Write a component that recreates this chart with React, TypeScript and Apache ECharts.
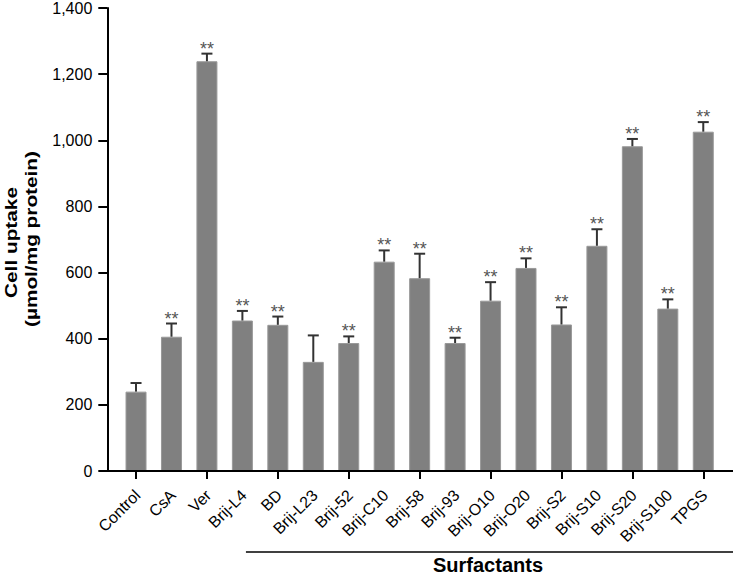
import React, { useEffect, useRef } from "react";
import * as echarts from "echarts";

const categories = [
  "Control", "CsA", "Ver", "Brij-L4", "BD", "Brij-L23", "Brij-52", "Brij-C10", "Brij-58",
  "Brij-93", "Brij-O10", "Brij-O20", "Brij-S2", "Brij-S10", "Brij-S20", "Brij-S100", "TPGS",
];
const means = [240, 406, 1239, 455, 442, 330, 387, 633, 583, 387, 515, 614, 443, 681, 982, 491, 1026];
const errors = [26, 40, 23, 29, 25, 80, 20, 34, 74, 16, 56, 29, 52, 50, 22, 28, 29];
const significance = ["", "**", "**", "**", "**", "", "**", "**", "**", "**", "**", "**", "**", "**", "**", "**", "**"];
const yTitleLines = ["Cell uptake", "(\u00b5mol/mg protein)"];
const groupLabel = "Surfactants";
const groupStart = "BD";

const FONT = "'Liberation Sans', Arial, Helvetica, sans-serif";

export default function App() {
  const ref = useRef<HTMLDivElement>(null);

  useEffect(() => {
    document.body.style.margin = "0";
    if (!ref.current) return;
    const chart = echarts.init(ref.current, null, { renderer: "svg" });

    const option: any = {
      animation: false,
      backgroundColor: "#ffffff",
      grid: { left: 118.3, right: 12, top: 7, bottom: 110, containLabel: false },
      xAxis: {
        type: "category",
        data: categories,
        axisLine: { show: false },
        axisTick: { show: true, alignWithLabel: true, length: 8, lineStyle: { color: "#000", width: 2 } },
        axisLabel: { show: false },
      },
      yAxis: {
        type: "value",
        min: 0,
        max: 1400,
        interval: 200,
        offset: 11,
        splitLine: { show: false },
        axisLine: { show: true, lineStyle: { color: "#000", width: 2 } },
        axisTick: { show: true, length: 9, lineStyle: { color: "#000", width: 2 } },
        axisLabel: {
          margin: 15,
          color: "#000",
          fontSize: 16,
          fontFamily: FONT,
          formatter: (v: number) => v.toLocaleString("en-US"),
        },
      },
      series: [
        {
          type: "bar",
          data: means,
          barWidth: 21,
          itemStyle: { color: "#808080", borderColor: "#999999", borderWidth: 1 },
          z: 2,
        },
        {
          type: "custom",
          data: means.map((m, i) => [i, m, errors[i]]),
          encode: { x: 0, y: 1 },
          z: 3,
          renderItem: (params: any, api: any) => {
            const i = api.value(0);
            const m = api.value(1);
            const e = api.value(2);
            const base = api.coord([i, m]);
            const top = api.coord([i, m + e]);
            const capHalf = 5.5;
            const children: any[] = [
              {
                type: "line",
                shape: { x1: base[0], y1: base[1], x2: top[0], y2: top[1] },
                style: { stroke: "#333", lineWidth: 2 },
              },
              {
                type: "line",
                shape: { x1: top[0] - capHalf, y1: top[1], x2: top[0] + capHalf, y2: top[1] },
                style: { stroke: "#333", lineWidth: 2 },
              },
            ];
            const s = significance[params.dataIndex];
            if (s) {
              children.push({
                type: "text",
                x: top[0],
                y: top[1] - 5,
                style: {
                  text: s,
                  fill: "#555",
                  font: `18px ${FONT}`,
                  align: "center",
                  verticalAlign: "middle",
                },
              });
            }
            return { type: "group", children };
          },
        },
      ],
    };

    chart.setOption(option);

    const y0 = chart.convertToPixel({ yAxisIndex: 0 }, 0) as number;
    const yAxisX = 118.3 - 11;
    const catX = categories.map((c) => chart.convertToPixel({ xAxisIndex: 0 }, c) as number);
    const bw = catX[1] - catX[0];
    const bdX = catX[categories.indexOf(groupStart)];
    const yTop = chart.convertToPixel({ yAxisIndex: 0 }, 1400) as number;
    const yMid = (yTop + y0) / 2;

    const xLabels = categories.map((c, i) => ({
      type: "text",
      x: catX[i] + 1.5,
      y: y0 + 21.5,
      rotation: Math.PI / 4,
      style: {
        text: c,
        fill: "#000",
        font: `16px ${FONT}`,
        align: "right",
        verticalAlign: "middle",
      },
    }));

    chart.setOption({
      graphic: [
        {
          type: "line",
          shape: { x1: yAxisX - 1, y1: y0, x2: 733, y2: y0 },
          style: { stroke: "#000", lineWidth: 2 },
          z: 10,
        },
        ...xLabels,
        {
          type: "line",
          shape: { x1: bdX - 0.9 * bw, y1: 552, x2: 733, y2: 552 },
          style: { stroke: "#000", lineWidth: 1.5 },
        },
        {
          type: "text",
          x: 488,
          y: 565,
          style: {
            text: groupLabel,
            fill: "#000",
            font: `bold 20px ${FONT}`,
            align: "center",
            verticalAlign: "middle",
          },
        },
        {
          type: "text",
          x: 11,
          y: yMid + 3,
          rotation: Math.PI / 2,
          scaleX: 1.3,
          style: {
            text: yTitleLines[0],
            fill: "#000",
            font: `bold 16px ${FONT}`,
            align: "center",
            verticalAlign: "middle",
          },
        },
        {
          type: "text",
          x: 31.5,
          y: yMid - 0.5,
          rotation: Math.PI / 2,
          scaleX: 1.3,
          style: {
            text: yTitleLines[1],
            fill: "#000",
            font: `bold 16px ${FONT}`,
            align: "center",
            verticalAlign: "middle",
          },
        },
      ],
    });

    return () => chart.dispose();
  }, []);

  return <div ref={ref} style={{ width: 733, height: 581 }} />;
}
